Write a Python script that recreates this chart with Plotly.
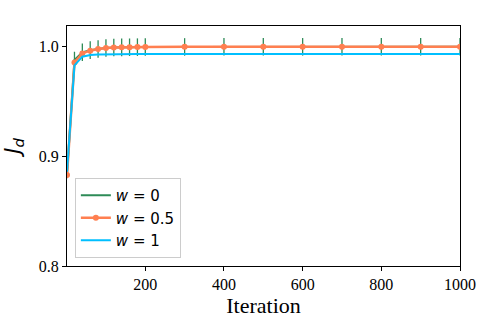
import plotly.graph_objects as go

iters = [1, 20, 40, 60, 80, 100, 120, 140, 160, 180, 200, 300, 400, 500, 600, 700, 800, 900, 1000]

jd_w0 = [0.884, 0.988, 0.995, 0.997, 0.998, 0.999, 0.9993, 0.9995, 0.9996, 0.9997, 0.9998,
         0.9999, 1.0, 1.0, 1.0, 1.0, 1.0, 1.0, 1.0]
jd_w0_err = [0.004, 0.0075, 0.008, 0.008, 0.008, 0.008, 0.008, 0.008, 0.008, 0.008, 0.008,
             0.008, 0.008, 0.008, 0.008, 0.008, 0.008, 0.008, 0.008]
jd_w05 = [0.883, 0.9857, 0.994, 0.9965, 0.998, 0.999, 0.9993, 0.9995, 0.9997, 0.9998, 0.9999,
          1.0, 1.0, 1.0, 1.0, 1.0, 1.0, 1.0, 1.0]
jd_w1 = [0.886, 0.983, 0.991, 0.9925, 0.993, 0.9932, 0.9933, 0.9934, 0.9934, 0.9935, 0.9935,
         0.9935, 0.9935, 0.9935, 0.9935, 0.9935, 0.9935, 0.9935, 0.9935]

names = ['<i>w</i> = 0', '<i>w</i> = 0.5', '<i>w</i> = 1']

data = [
    go.Scatter(x=iters, y=jd_w0, mode='lines', name=names[0],
               line=dict(color='#2e8b57', width=2),
               error_y=dict(type='data', array=jd_w0_err, color='#2e8b57', thickness=1.3, width=0)),
    go.Scatter(x=iters, y=jd_w05, mode='lines+markers', name=names[1],
               line=dict(color='#ff7f50', width=2.5),
               marker=dict(size=6, color='#ff7f50')),
    go.Scatter(x=iters, y=jd_w1, mode='lines', name=names[2],
               line=dict(color='#00bfff', width=2)),
]

axis_style = dict(showline=True, linecolor='black', linewidth=1.2, mirror=True, automargin=False,
                  ticks='outside', ticklen=4, tickcolor='black', showgrid=False, zeroline=False,
                  ticklabeloverflow='allow',
                  tickfont=dict(family='Liberation Serif', size=16, color='black'))

layout = go.Layout(
    width=480, height=320,
    margin=dict(l=67, r=20, t=26, b=54),
    plot_bgcolor='white', paper_bgcolor='white',
    xaxis=dict(range=[1, 1000], tickvals=[200, 400, 600, 800, 1000],
               title=dict(text='Iteration', font=dict(family='Liberation Serif', size=22, color='black'),
                          standoff=4),
               **axis_style),
    yaxis=dict(range=[0.8, 1.019], tickvals=[0.8, 0.9, 1.0], ticktext=['0.8', '0.9', '1.0'],
               title=dict(text='<i>J</i><sub><i>d</i></sub>',
                          font=dict(family='DejaVu Sans', size=21, color='black'), standoff=12),
               **axis_style),
    legend=dict(x=0.02, y=0.033, xanchor='left', yanchor='bottom',
                bgcolor='rgba(255,255,255,0.8)', bordercolor='#cccccc', borderwidth=1,
                font=dict(family='DejaVu Sans', size=15, color='black'), itemwidth=30,
                tracegroupgap=0),
    showlegend=True,
)

fig = go.Figure(data=data, layout=layout)
# drop the default body margin so the 480x320 figure fills the window exactly
fig.write_html("out.html", config={'displayModeBar': False},
               post_script="document.body.style.margin='0';document.body.style.overflow='hidden';")
